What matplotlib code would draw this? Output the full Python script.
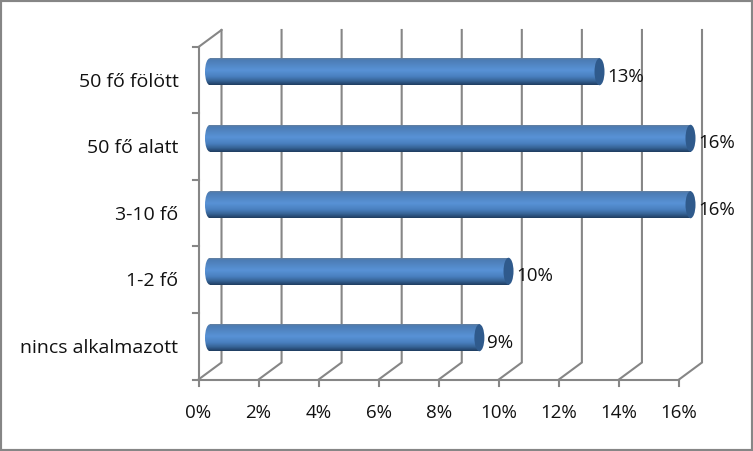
import matplotlib
matplotlib.use("Agg")
import matplotlib.pyplot as plt
import numpy as np
from matplotlib.colors import LinearSegmentedColormap
from matplotlib.patches import Ellipse, Rectangle

categories = ["nincs alkalmazott", "1-2 fő", "3-10 fő", "50 fő alatt", "50 fő fölött"]
values = [8.97, 9.94, 16.0, 16.0, 12.97]
labels = ["9%", "10%", "16%", "16%", "13%"]
ticks = [0, 2, 4, 6, 8, 10, 12, 14, 16]

W, H = 753, 451
plt.rcParams["font.family"] = ["Open Sans", "DejaVu Sans"]
GREY = "#868686"
FS = 13.5

fig = plt.figure(figsize=(W / 100, H / 100), dpi=100, facecolor="white")
# front plane of the fake 3d box
ax = fig.add_axes([198.5 / W, 1 - 379.5 / H, 480.5 / W, 332.5 / H])
ax.set_xlim(0, 16)
ax.set_ylim(0, 5)
ax.axis("off")

px_x = 16 / 480.5
px_y = 5 / 332.5
dx = 23 * px_x
dy = 17 * px_y

# gridlines: back wall plus floor diagonal
for t in ticks:
    ax.plot([t, t + dx, t + dx], [0, dy, 5 + dy], color=GREY, lw=1.5, clip_on=False,
            solid_joinstyle="miter", zorder=1)
    ax.plot([t, t], [0, -6 * px_y], color=GREY, lw=1.5, clip_on=False, zorder=1)
    ax.text(t, -33 * px_y, f"{t}%", ha="center", va="center", fontsize=FS, color="#111111")

# left wall and floor front edge
ax.plot([0, 0], [0, 5], color=GREY, lw=1.5, clip_on=False, zorder=1)
ax.plot([0, 16], [0, 0], color=GREY, lw=1.5, clip_on=False, zorder=1)
ax.plot([0, dx], [5, 5 + dy], color=GREY, lw=1.5, clip_on=False, zorder=1)
for i in range(6):
    ax.plot([-6 * px_x, 0], [i, i], color=GREY, lw=1.5, clip_on=False, zorder=1)

grad = LinearSegmentedColormap.from_list(
    "bar", [(0, "#64809f"), (0.06, "#4c7cb4"), (0.45, "#5892d6"), (0.68, "#4a80c0"),
            (0.84, "#386699"), (0.96, "#254770"), (1, "#203e60")])
shade = np.linspace(0, 1, 64).reshape(-1, 1)

bar_h = 27 * px_y
cap_w = 10 * px_x
start = dx / 2
for i, v in enumerate(values):
    yc = i + 0.5 + dy / 2
    xe = v + dx / 2
    # body: rectangle and rounded left end, filled with the vertical gradient
    ext = [start - cap_w / 2, xe, yc - bar_h / 2, yc + bar_h / 2]
    im = ax.imshow(shade, cmap=grad, aspect="auto", origin="upper", zorder=3, extent=ext)
    im.set_clip_path(Rectangle((start, yc - bar_h / 2), xe - start, bar_h, transform=ax.transData))
    im2 = ax.imshow(shade, cmap=grad, aspect="auto", origin="upper", zorder=3, extent=ext)
    im2.set_clip_path(Ellipse((start, yc), cap_w, bar_h, transform=ax.transData))
    ax.add_patch(Ellipse((xe, yc), cap_w, bar_h, facecolor="#2f5a8c", edgecolor="none",
                         clip_on=False, zorder=4))
    ax.text(xe + 8 * px_x, yc - 5 * px_y, labels[i], ha="left", va="center", fontsize=FS,
            color="#111111", zorder=5, clip_on=False)
    ax.text(-20 * px_x, i + 0.5 - 1.5 * px_y, categories[i], ha="right", va="center",
            fontsize=14, color="#111111")

ax.set_xlim(0, 16)
ax.set_ylim(0, 5)

# picture frame
fig.add_artist(Rectangle((0, 0), 1, 1, transform=fig.transFigure, fill=False,
                         edgecolor=GREY, lw=3))

fig.savefig("out.png", dpi=100, facecolor="white")
